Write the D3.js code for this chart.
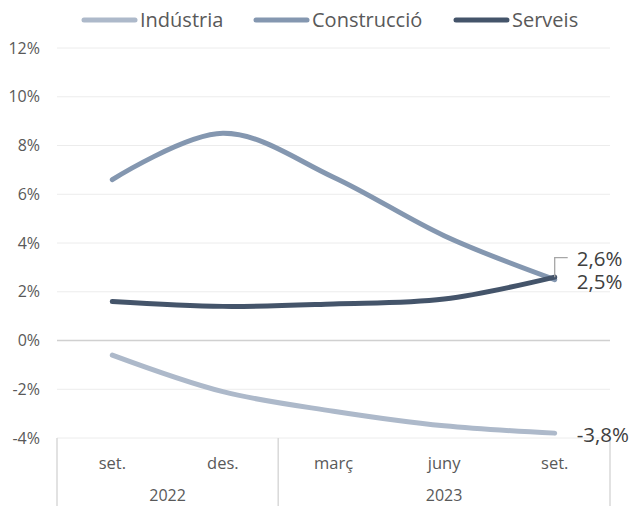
<!DOCTYPE html>
<html>
<head>
<meta charset="utf-8">
<script src="https://cdn.jsdelivr.net/npm/d3@7"></script>
<style>
  body { margin: 0; background: #fff; }
  text { font-family: "Open Sans", "Noto Sans", sans-serif; fill: #595959; }
</style>
</head>
<body>
<svg id="chart" width="633" height="506"></svg>
<script>
// data
const months = ['set.', 'des.', 'març', 'juny', 'set.'];
const years = [{ name: '2022', from: 0, to: 1 }, { name: '2023', from: 2, to: 4 }];
const yTicks = [-4, -2, 0, 2, 4, 6, 8, 10, 12];

const industria = [-0.6, -2.1, -2.9, -3.5, -3.8];
const construccio = [6.6, 8.5, 6.7, 4.3, 2.5];
const serveis = [1.6, 1.4, 1.5, 1.7, 2.6];

const series = [
  { name: 'Indústria', values: industria, color: '#adb9ca' },
  { name: 'Construcció', values: construccio, color: '#8497b0' },
  { name: 'Serveis', values: serveis, color: '#44546a' },
];

const width = 633;
const height = 506;
const margin = { top: 48, right: 23, bottom: 68, left: 57 };
const font = '"Open Sans", "Noto Sans", sans-serif';

const svg = d3.select('#chart');

const x = d3.scaleBand()
  .domain(d3.range(months.length))
  .range([margin.left, width - margin.right]);

const y = d3.scaleLinear()
  .domain([-4, 12])
  .range([height - margin.bottom, margin.top]);

/* ----------------------------- grid ----------------------------- */
svg.append('g')
  .selectAll('line')
  .data(yTicks)
  .enter()
  .append('line')
  .attr('x1', margin.left)
  .attr('x2', width - margin.right)
  .attr('y1', (d) => y(d))
  .attr('y2', (d) => y(d))
  .attr('stroke', (d) => (d === 0 ? '#d0d0d0' : '#ececec'))
  .attr('stroke-width', (d) => (d === 0 ? 1.5 : 1));

const yAxis = svg.append('g')
  .attr('transform', `translate(${margin.left},0)`)
  .call(d3.axisLeft(y).tickValues(yTicks).tickSize(0).tickPadding(17).tickFormat((d) => `${d}%`));
yAxis.select('.domain').remove();
yAxis.selectAll('text')
  .style('font-size', '16px')
  .style('fill', '#595959')
  .style('font-family', font);

/* ---------------------- category axis (2 levels) ---------------------- */
const axisTop = y(-4);
const xAxis = svg.append('g')
  .attr('transform', `translate(0,${axisTop})`)
  .call(d3.axisBottom(x).tickSize(0).tickPadding(19).tickFormat((i) => months[i]));
xAxis.select('.domain').remove();
xAxis.selectAll('text')
  .style('font-size', '16.5px')
  .style('fill', '#595959')
  .style('font-family', font);

const seps = [x(0), x(years[1].from), x(months.length - 1) + x.bandwidth()];
svg.append('g')
  .selectAll('line')
  .data(seps)
  .enter()
  .append('line')
  .attr('x1', (d) => d)
  .attr('x2', (d) => d)
  .attr('y1', axisTop)
  .attr('y2', height)
  .attr('stroke', '#d9d9d9')
  .attr('stroke-width', 1.5);

svg.append('g')
  .selectAll('text')
  .data(years)
  .enter()
  .append('text')
  .attr('x', (d) => (x(d.from) + x(d.to) + x.bandwidth()) / 2)
  .attr('y', height - 5)
  .attr('text-anchor', 'middle')
  .style('font-size', '16px')
  .text((d) => d.name);

/* ----------------------------- lines ----------------------------- */
const line = d3.line()
  .x((d, i) => x(i) + x.bandwidth() / 2)
  .y((d) => y(d))
  .curve(d3.curveCardinal.tension(0));

svg.append('g')
  .selectAll('path')
  .data(series)
  .enter()
  .append('path')
  .attr('d', (d) => line(d.values))
  .attr('fill', 'none')
  .attr('stroke', (d) => d.color)
  .attr('stroke-width', 5)
  .attr('stroke-linecap', 'round');

/* ----------------------------- labels ----------------------------- */
const last = months.length - 1;
const lx = x(last) + x.bandwidth() / 2;

svg.append('path')
  .attr('d', `M${lx},${y(serveis[last])} V${y(serveis[last]) - 19.5} H${lx + 13}`)
  .attr('fill', 'none')
  .attr('stroke', '#a6a6a6')
  .attr('stroke-width', 1.3);

const labels = [
  { text: '2,6%', x: lx + 22, y: y(serveis[last]) - 11 },
  { text: '2,5%', x: lx + 22, y: y(construccio[last]) + 9.5 },
  { text: '-3,8%', x: lx + 22, y: y(industria[last]) + 8.5 },
];
svg.append('g')
  .selectAll('text')
  .data(labels)
  .enter()
  .append('text')
  .attr('x', (d) => d.x)
  .attr('y', (d) => d.y)
  .style('font-size', '20.5px')
  .style('fill', '#404040')
  .text((d) => d.text);

/* ----------------------------- legend ----------------------------- */
const legendX = [82, 254, 454];
const legend = svg.append('g')
  .selectAll('g')
  .data(series)
  .enter()
  .append('g')
  .attr('transform', (d, i) => `translate(${legendX[i]},20)`);
legend.append('line')
  .attr('x1', 2)
  .attr('x2', 53)
  .attr('stroke', (d) => d.color)
  .attr('stroke-width', 5)
  .attr('stroke-linecap', 'round');
legend.append('text')
  .attr('x', 58)
  .attr('dy', '0.35em')
  .style('font-size', '20px')
  .text((d) => d.name);
</script>
</body>
</html>
